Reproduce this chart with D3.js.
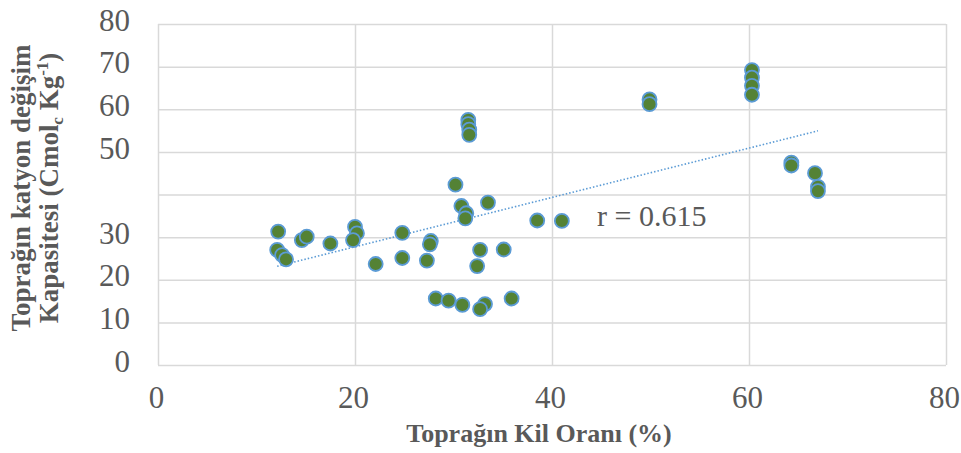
<!DOCTYPE html>
<html>
<head>
<meta charset="utf-8">
<script src="https://cdn.jsdelivr.net/npm/d3@7"></script>
<style>
  html, body { margin: 0; padding: 0; background: #fff; }
  #chart { width: 961px; height: 453px; }
</style>
</head>
<body>
<div id="chart"></div>
<script>
// Kil orani (%) vs katyon degisim kapasitesi
var clay = [31.5, 31.5, 31.6, 31.6, 30.2, 30.8, 31.3, 31.2, 33.5, 38.5, 41.0,
            12.2, 12.1, 12.6, 13.0, 14.6, 15.1, 17.5, 20.0, 20.2, 19.8, 22.1,
            24.8, 24.8, 27.7, 27.6, 27.3, 32.7, 32.4, 35.1,
            28.2, 29.5, 30.9, 33.2, 32.7, 35.9,
            49.9, 49.9, 60.3, 60.3, 60.3, 60.3, 64.3, 64.3, 66.7, 67.0, 67.0];
var cec  = [57.5, 56.5, 55.2, 54.0, 42.3, 37.3, 35.6, 34.4, 38.1, 33.9, 33.8,
            31.3, 27.0, 25.8, 24.8, 29.3, 30.1, 28.5, 32.4, 30.9, 29.3, 23.7,
            31.0, 25.1, 29.1, 28.3, 24.5, 27.0, 23.2, 27.1,
            15.6, 15.1, 14.1, 14.3, 13.1, 15.6,
            62.3, 61.2, 69.2, 67.4, 65.5, 63.4, 47.5, 46.8, 45.0, 41.8, 40.8];

var xTicks = [0, 20, 40, 60, 80];
var yTicks = [0, 10, 20, 30, 40, 50, 60, 70, 80];
var yTickLabels = ['0', '10', '20', '30', '', '50', '60', '70', '80'];
var rLabel = 'r = 0.615';

var width = 961, height = 453;
var plotLeft = 158, plotRight = 946, plotTop = 24, plotBottom = 365;
var textColor = '#595959';
var serif = '"Liberation Serif", "Times New Roman", serif';

var svg = d3.select('#chart').append('svg')
    .attr('width', width)
    .attr('height', height)
    .style('background', '#fff');

var x = d3.scaleLinear().domain([0, 80]).range([plotLeft, plotRight]);
var y = d3.scaleLinear().domain([0, 80]).range([plotBottom, plotTop]);

// gridlines + tick labels
var yAxis = svg.append('g')
    .attr('transform', 'translate(' + plotLeft + ',0)')
    .call(d3.axisLeft(y)
        .tickValues(yTicks)
        .tickSize(-(plotRight - plotLeft))
        .tickPadding(28)
        .tickFormat(function(d, i) { return yTickLabels[i]; }));

var xAxis = svg.append('g')
    .attr('transform', 'translate(0,' + plotBottom + ')')
    .call(d3.axisBottom(x)
        .tickValues(xTicks)
        .tickSize(-(plotBottom - plotTop))
        .tickFormat(d3.format('d')));

[xAxis, yAxis].forEach(function(ax) {
    ax.select('.domain').remove();
    ax.selectAll('line')
        .attr('stroke', '#d9d9d9')
        .attr('stroke-width', 1.5);
    ax.selectAll('text')
        .attr('fill', textColor)
        .style('font-family', serif)
        .style('font-size', '31px');
});

yAxis.selectAll('text').attr('dy', '0.2em');
xAxis.selectAll('text')
    .attr('y', 43)
    .attr('dy', 0)
    .attr('dx', -2);

// trend line (least squares)
var n = clay.length;
var mx = d3.mean(clay), my = d3.mean(cec);
var sxy = 0, sxx = 0;
for (var i = 0; i < n; i++) {
    sxy += (clay[i] - mx) * (cec[i] - my);
    sxx += (clay[i] - mx) * (clay[i] - mx);
}
var slope = sxy / sxx;
var intercept = my - slope * mx;
var xs = d3.extent(clay);

svg.append('line')
    .attr('x1', x(xs[0]))
    .attr('y1', y(intercept + slope * xs[0]))
    .attr('x2', x(xs[1]))
    .attr('y2', y(intercept + slope * xs[1]))
    .attr('stroke', '#5b9bd5')
    .attr('stroke-width', 1.6)
    .attr('stroke-dasharray', '1.5 2');

// points
var points = clay.map(function(c, i) { return { x: c, y: cec[i] }; });
svg.append('g').selectAll('circle')
    .data(points)
    .enter()
    .append('circle')
    .attr('cx', function(d) { return x(d.x); })
    .attr('cy', function(d) { return y(d.y); })
    .attr('r', 7)
    .attr('fill', '#548235')
    .attr('stroke', '#5b9bd5')
    .attr('stroke-width', 1.8);

// r annotation
svg.append('text')
    .attr('x', 597)
    .attr('y', 226)
    .attr('fill', textColor)
    .style('font-family', serif)
    .style('font-size', '30px')
    .text(rLabel);

// axis titles
svg.append('text')
    .attr('x', 539)
    .attr('y', 442)
    .attr('text-anchor', 'middle')
    .attr('fill', textColor)
    .style('font-family', serif)
    .style('font-weight', 'bold')
    .style('font-size', '26px')
    .text('Toprağın Kil Oranı (%)');

var yTitle = svg.append('text')
    .attr('transform', 'translate(0,188) rotate(-90)')
    .attr('text-anchor', 'middle')
    .attr('fill', textColor)
    .style('font-family', serif)
    .style('font-weight', 'bold')
    .style('font-size', '27px');

yTitle.append('tspan')
    .attr('x', 0)
    .attr('y', 30)
    .text('Toprağın katyon değişim');

var line2 = yTitle.append('tspan')
    .attr('x', 0)
    .attr('y', 58);
line2.append('tspan').text('Kapasitesi (Cmol');
line2.append('tspan').attr('dy', 5).style('font-size', '17px').text('c');
line2.append('tspan').attr('dy', -5).text(' Kg');
line2.append('tspan').attr('dy', -10).style('font-size', '17px').text('-1');
line2.append('tspan').attr('dy', 10).text(')');
</script>
</body>
</html>
